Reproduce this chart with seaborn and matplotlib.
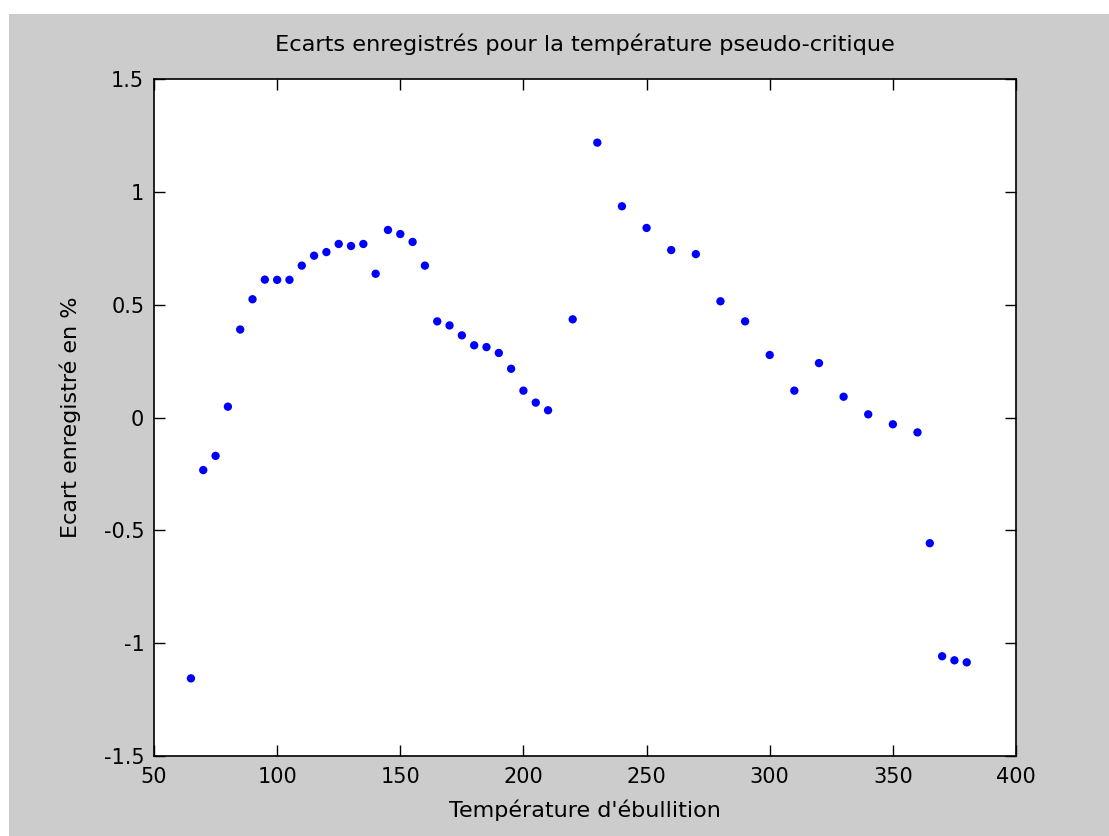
import numpy as np
import pandas as pd
import matplotlib
matplotlib.use("Agg")
import matplotlib.pyplot as plt
import seaborn as sns
from matplotlib.patches import Rectangle

# Data
temperature = [65, 70, 75, 80, 85, 90, 95, 100, 105, 110, 115, 120, 125, 130, 135,
               140, 145, 150, 155, 160, 165, 170, 175, 180, 185, 190, 195, 200, 205,
               210, 220, 230, 240, 250, 260, 270, 280, 290, 300, 310, 320, 330, 340,
               350, 360, 365, 370, 375, 380]
ecart = [-1.156, -0.233, -0.170, 0.048, 0.390, 0.524, 0.611, 0.610, 0.610, 0.673,
         0.717, 0.733, 0.769, 0.760, 0.769, 0.637, 0.831, 0.813, 0.778, 0.673,
         0.426, 0.408, 0.364, 0.320, 0.312, 0.286, 0.216, 0.119, 0.066, 0.032,
         0.435, 1.218, 0.936, 0.840, 0.742, 0.724, 0.515, 0.426, 0.277, 0.119,
         0.241, 0.092, 0.014, -0.030, -0.066, -0.557, -1.058, -1.076, -1.085]

x_ticks = [50, 100, 150, 200, 250, 300, 350, 400]
y_ticks = [-1.5, -1, -0.5, 0, 0.5, 1, 1.5]
y_tick_labels = ["-1.5", "-1", "-0.5", "0", "0.5", "1", "1.5"]

title = "Ecarts enregistrés pour la température pseudo-critique"
xlabel = "Température d'ébullition"
ylabel = "Ecart enregistré en %"

df = pd.DataFrame({"T": temperature, "E": ecart})

sns.set_theme(style="ticks")
plt.rcParams["font.family"] = ["DejaVu Sans"]

W, H = 1109, 836
fig = plt.figure(figsize=(W / 100, H / 100), dpi=100, facecolor="white")
# gray figure background (with thin white margin top/left like the reference)
fig.patches.append(Rectangle((9 / W, 0), 1 - 9 / W, (H - 14) / H,
                             transform=fig.transFigure, facecolor="#cccccc",
                             edgecolor="none", zorder=-10))

ax = fig.add_axes([154 / W, (H - 756) / H, (1016 - 154) / W, (756 - 79) / H])
ax.set_facecolor("white")

sns.scatterplot(data=df, x="T", y="E", ax=ax, color="#0000ff", s=36,
                linewidth=0, edgecolor="none")

ax.set_xlim(50, 400)
ax.set_ylim(-1.5, 1.5)
ax.set_xticks(x_ticks)
ax.set_xticklabels([str(v) for v in x_ticks])
ax.set_yticks(y_ticks)
ax.set_yticklabels(y_tick_labels)

ax.tick_params(direction="in", length=8, width=1, colors="black",
               labelsize=15, top=True, right=True)
ax.tick_params(axis="x", pad=8)
ax.tick_params(axis="y", pad=7)
for sp in ax.spines.values():
    sp.set_visible(True)
    sp.set_color("black")
    sp.set_linewidth(1.2)

ax.set_title(title, fontsize=16.2, color="black", pad=20)
ax.set_xlabel(xlabel, fontsize=16, color="black", labelpad=9)
ax.set_ylabel(ylabel, fontsize=16, color="black", labelpad=16)

fig.savefig("out.png", dpi=100, facecolor=fig.get_facecolor())
